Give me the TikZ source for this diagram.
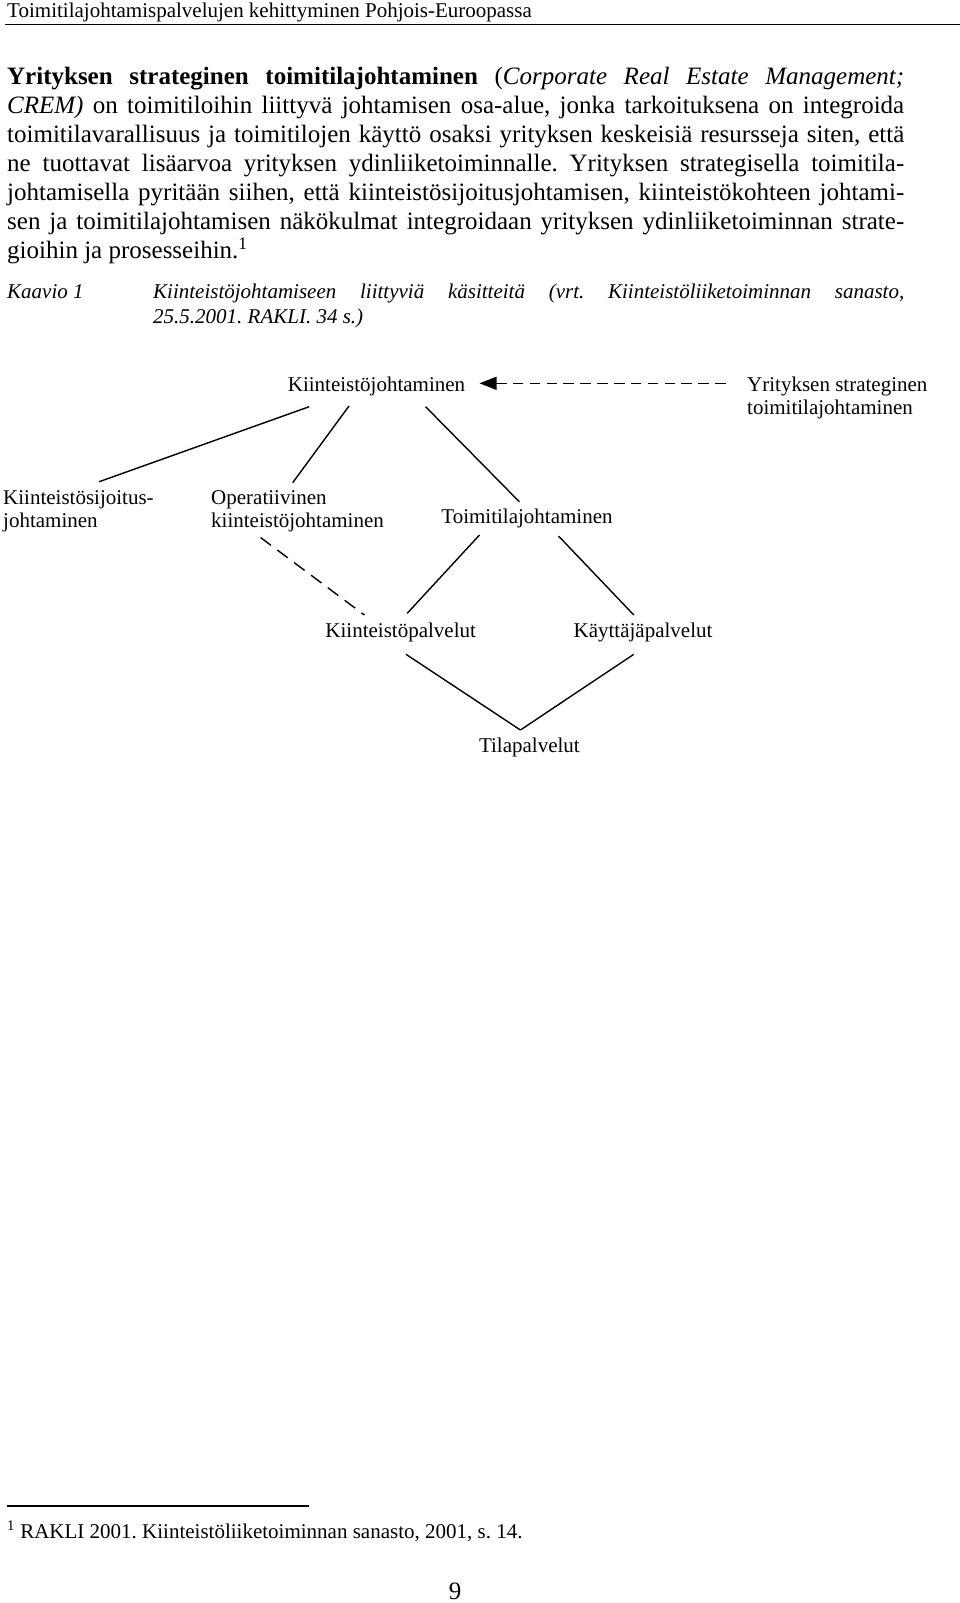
\documentclass[tikz,border=0pt]{standalone}
\usepackage{fontspec}
\setmainfont{Liberation Serif}
\usetikzlibrary{arrows.meta,calc}
\tikzset{
  bodyline/.style={anchor=base west, inner sep=0pt, font=\fontsize{25}{29}\selectfont},
  smallline/.style={anchor=base west, inner sep=0pt, font=\fontsize{21}{25}\selectfont},
  lbl/.style={inner sep=0pt, font=\fontsize{21}{23.5}\selectfont},
  conn/.style={line width=1.4pt},
  dconn/.style={line width=1.4pt, dash pattern=on 13pt off 8pt},
  arrconn/.style={line width=1.4pt, dash pattern=on 10.5pt off 6.35pt, -{Triangle[length=17pt,width=13pt]}},
}
\begin{document}
\frenchspacing
\begin{tikzpicture}[x=1pt,y=-1pt]
\fill[white] (0,0) rectangle (960,1603);
\useasboundingbox (0,0) rectangle (960,1603);

% header
\node[smallline] (hd) at (7,17.5) {Toimitilajohtamispalvelujen kehittyminen Pohjois-Euroopassa};
\draw[line width=1.5pt] (5,24.5) -- (960,24.5);

% body paragraph
\node[bodyline] (b1) at (7,84.8) {\makebox[897pt][s]{\textbf{Yrityksen strateginen toimitilajohtaminen} (\textit{Corporate Real Estate Management;}}};
\node[bodyline] (b2) at (7,113.7) {\makebox[897pt][s]{\textit{CREM)} on toimitiloihin liittyvä johtamisen osa-alue, jonka tarkoituksena on integroida}};
\node[bodyline] (b3) at (7,142.6) {\makebox[897pt][s]{toimitilavarallisuus ja toimitilojen käyttö osaksi yrityksen keskeisiä resursseja siten, että}};
\node[bodyline] (b4) at (7,171.5) {\makebox[897pt][s]{ne tuottavat lisäarvoa yrityksen ydinliiketoiminnalle. Yrityksen strategisella toimitila-}};
\node[bodyline] (b5) at (7,200.4) {\makebox[897pt][s]{johtamisella pyritään siihen, että kiinteistösijoitusjohtamisen, kiinteistökohteen johtami-}};
\node[bodyline] (b6) at (7,229.3) {\makebox[897pt][s]{sen ja toimitilajohtamisen näkökulmat integroidaan yrityksen ydinliiketoiminnan strate-}};
\node[bodyline] (b7) at (7,258.2) {gioihin ja prosesseihin.\textsuperscript{1}};

% caption
\node[smallline] (c0) at (7,298) {\itshape Kaavio 1};
\node[smallline] (c1) at (153,298) {\makebox[751pt][s]{\itshape Kiinteistöjohtamiseen liittyviä käsitteitä (vrt. Kiinteistöliiketoiminnan sanasto,}};
\node[smallline] (c2) at (153,323.5) {\itshape 25.5.2001. RAKLI. 34 s.)};

% diagram nodes (base anchor of multi-line nodes = last line)
\node[lbl, anchor=base] (K) at (376.5,391) {Kiinteistöjohtaminen};
\node[lbl, anchor=base west, align=left] (Y) at (747,414.5) {Yrityksen strateginen\\toimitilajohtaminen};
\node[lbl, anchor=base west, align=left] (KS) at (3,527.9) {Kiinteistösijoitus-\\johtaminen};
\node[lbl, anchor=base west, align=left] (OP) at (211,527.9) {Operatiivinen\\kiinteistöjohtaminen};
\node[lbl, anchor=base] (T) at (527,523) {Toimitilajohtaminen};
\node[lbl, anchor=base] (KP) at (400.7,637.7) {Kiinteistöpalvelut};
\node[lbl, anchor=base] (KA) at (643,637.7) {Käyttäjäpalvelut};
\node[lbl, anchor=base] (TP) at (529.4,752.7) {Tilapalvelut};

% connectors
\draw[arrconn] ($(Y.base west)+(-21.4,-31.2)$) -- ($(K.base)+(103,-7.7)$);
\draw[conn] ($(K.base)+(-67.3,15.7)$) -- ($(KS.base west)+(96.2,-46.2)$);
\draw[conn] ($(K.base)+(-27.5,15)$) -- ($(OP.base west)+(81.7,-45.2)$);
\draw[conn] ($(K.base)+(49.1,15.7)$) -- ($(T.base)+(-7.7,-21.3)$);
\draw[dconn] ($(OP.base west)+(49.5,9.6)$) -- ($(KP.base)+(-36.3,-22.7)$);
\draw[conn] ($(T.base)+(-47.5,12)$) -- ($(KP.base)+(6.5,-24.4)$);
\draw[conn] ($(T.base)+(31.5,13)$) -- ($(KA.base)+(-9.2,-22.7)$);
\draw[conn] ($(KP.base)+(5.3,16.6)$) -- ($(TP.base)+(-9,-22.7)$);
\draw[conn] ($(KA.base)+(-9.2,16.6)$) -- ($(TP.base)+(-9,-22.7)$);

% footnote
\draw[line width=1.2pt] (7,1506) -- (309,1506);
\node[smallline] (fn) at (7,1538) {\textsuperscript{1} RAKLI 2001. Kiinteistöliiketoiminnan sanasto, 2001, s. 14.};

% page number
\node[bodyline, anchor=base] (pg) at (455,1599) {9};
\end{tikzpicture}
\end{document}
